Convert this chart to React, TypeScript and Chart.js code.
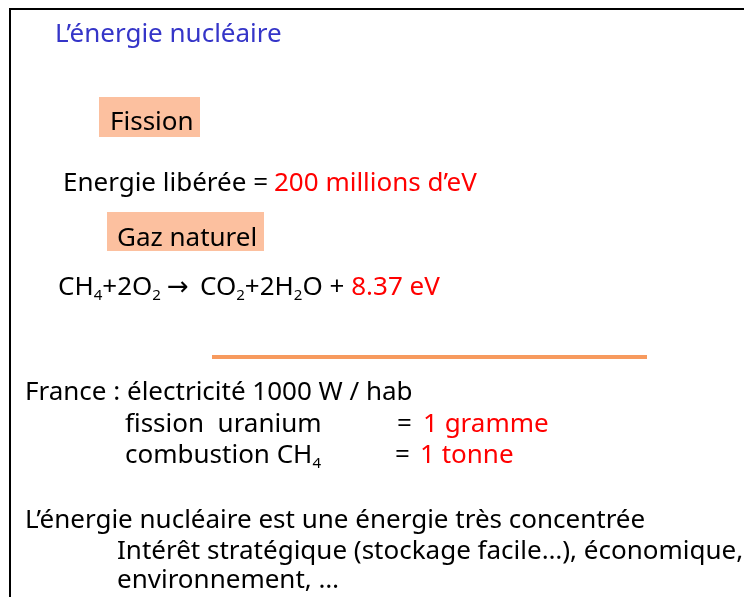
import React, { useEffect, useRef } from "react";
import { Chart, registerables } from "chart.js";
Chart.register(...registerables);

// ---- content ----
const title = "L’énergie nucléaire";
const fissionLabel = "Fission";
const gasLabel = "Gaz naturel";
const fissionPrefix = "Energie libérée = ";
const fissionEnergy = "200 millions d’eV";
const gasEnergy = "8.37 eV";
const franceLine = "France : électricité 1000 W / hab";
const uraniumLabel = "fission  uranium";
const uraniumMass = "1 gramme";
const methaneLabel = "combustion CH";
const methaneMass = "1 tonne";
const conclusion = [
  "L’énergie nucléaire est une énergie très concentrée",
  "Intérêt stratégique (stockage facile…), économique,",
  "environnement, …",
];

const FONT = '"Comic Sans MS", "Noto Sans", sans-serif';
const ARROW_FONT = '"DejaVu Sans", sans-serif';
const BLACK = "#000000";
const RED = "#FF0000";
const BLUE = "#3535C8";
const BOX = "#FCC09F";
const RULE = "#F79A5E";
const SIZE = 26;

type Run = { t: string; c?: string; sub?: boolean; x?: number; f?: string };

function drawRuns(ctx: CanvasRenderingContext2D, runs: Run[], x: number, y: number, size: number) {
  let cx = x;
  for (const r of runs) {
    if (r.x !== undefined) cx = r.x;
    const s = r.sub ? size * 0.58 : size;
    ctx.font = `${s}px ${r.f || FONT}`;
    ctx.fillStyle = r.c || BLACK;
    ctx.fillText(r.t, cx, r.sub ? y + size * 0.2 : y);
    cx += ctx.measureText(r.t).width;
  }
}

const slidePlugin = {
  id: "slide",
  afterDraw(chart: any) {
    const ctx: CanvasRenderingContext2D = chart.ctx;
    ctx.save();
    ctx.textBaseline = "alphabetic";
    ctx.textAlign = "left";
    // frame
    ctx.fillStyle = BLACK;
    ctx.fillRect(9, 8, 735, 2);
    ctx.fillRect(9, 8, 2, 589);
    // title
    drawRuns(ctx, [{ t: title, c: BLUE }], 55, 42, SIZE);
    // fission box
    ctx.fillStyle = BOX;
    ctx.fillRect(99, 97, 101, 40);
    drawRuns(ctx, [{ t: fissionLabel }], 110, 130, SIZE);
    drawRuns(ctx, [{ t: fissionPrefix }, { t: fissionEnergy, c: RED, x: 274 }], 63, 191, SIZE);
    // gas box
    ctx.fillStyle = BOX;
    ctx.fillRect(107, 212, 157, 39);
    drawRuns(ctx, [{ t: gasLabel }], 117, 246, SIZE);
    drawRuns(
      ctx,
      [
        { t: "CH" }, { t: "4", sub: true }, { t: "+2O" }, { t: "2", sub: true },
        { t: "\u2192", f: ARROW_FONT, x: 167 }, { t: "CO", x: 200 }, { t: "2", sub: true }, { t: "+2H" }, { t: "2", sub: true },
        { t: "O + " }, { t: gasEnergy, c: RED },
      ],
      58, 295, SIZE
    );
    // rule
    ctx.fillStyle = RULE;
    ctx.fillRect(212, 355, 435, 4);
    // France
    drawRuns(ctx, [{ t: franceLine }], 25, 400, SIZE);
    drawRuns(ctx, [{ t: uraniumLabel }, { t: "=", x: 397 }, { t: uraniumMass, c: RED, x: 423 }], 125, 432, SIZE);
    drawRuns(ctx, [{ t: methaneLabel }, { t: "4", sub: true }, { t: "=", x: 395 }, { t: methaneMass, c: RED, x: 420 }], 125, 463, SIZE);
    // conclusion
    drawRuns(ctx, [{ t: conclusion[0] }], 25, 528, SIZE);
    drawRuns(ctx, [{ t: conclusion[1] }], 117, 559, SIZE);
    drawRuns(ctx, [{ t: conclusion[2] }], 117, 588, SIZE);
    ctx.restore();
  },
};

export default function App() {
  const ref = useRef<HTMLCanvasElement>(null);
  useEffect(() => {
    if (!ref.current) return;
    const chart = new Chart(ref.current, {
      type: "scatter",
      data: { datasets: [] },
      options: {
        animation: false,
        responsive: false,
        devicePixelRatio: 1,
        layout: { padding: 0 },
        plugins: { legend: { display: false }, tooltip: { enabled: false } },
        scales: {
          x: { display: false, min: 0, max: 744 },
          y: { display: false, min: 0, max: 597, reverse: true },
        },
      },
      plugins: [slidePlugin],
    });
    return () => chart.destroy();
  }, []);
  return (
    <div style={{ position: "absolute", left: 0, top: 0, width: 744, height: 597, background: "#fff" }}>
      <canvas ref={ref} width={744} height={597} style={{ display: "block" }} />
    </div>
  );
}
